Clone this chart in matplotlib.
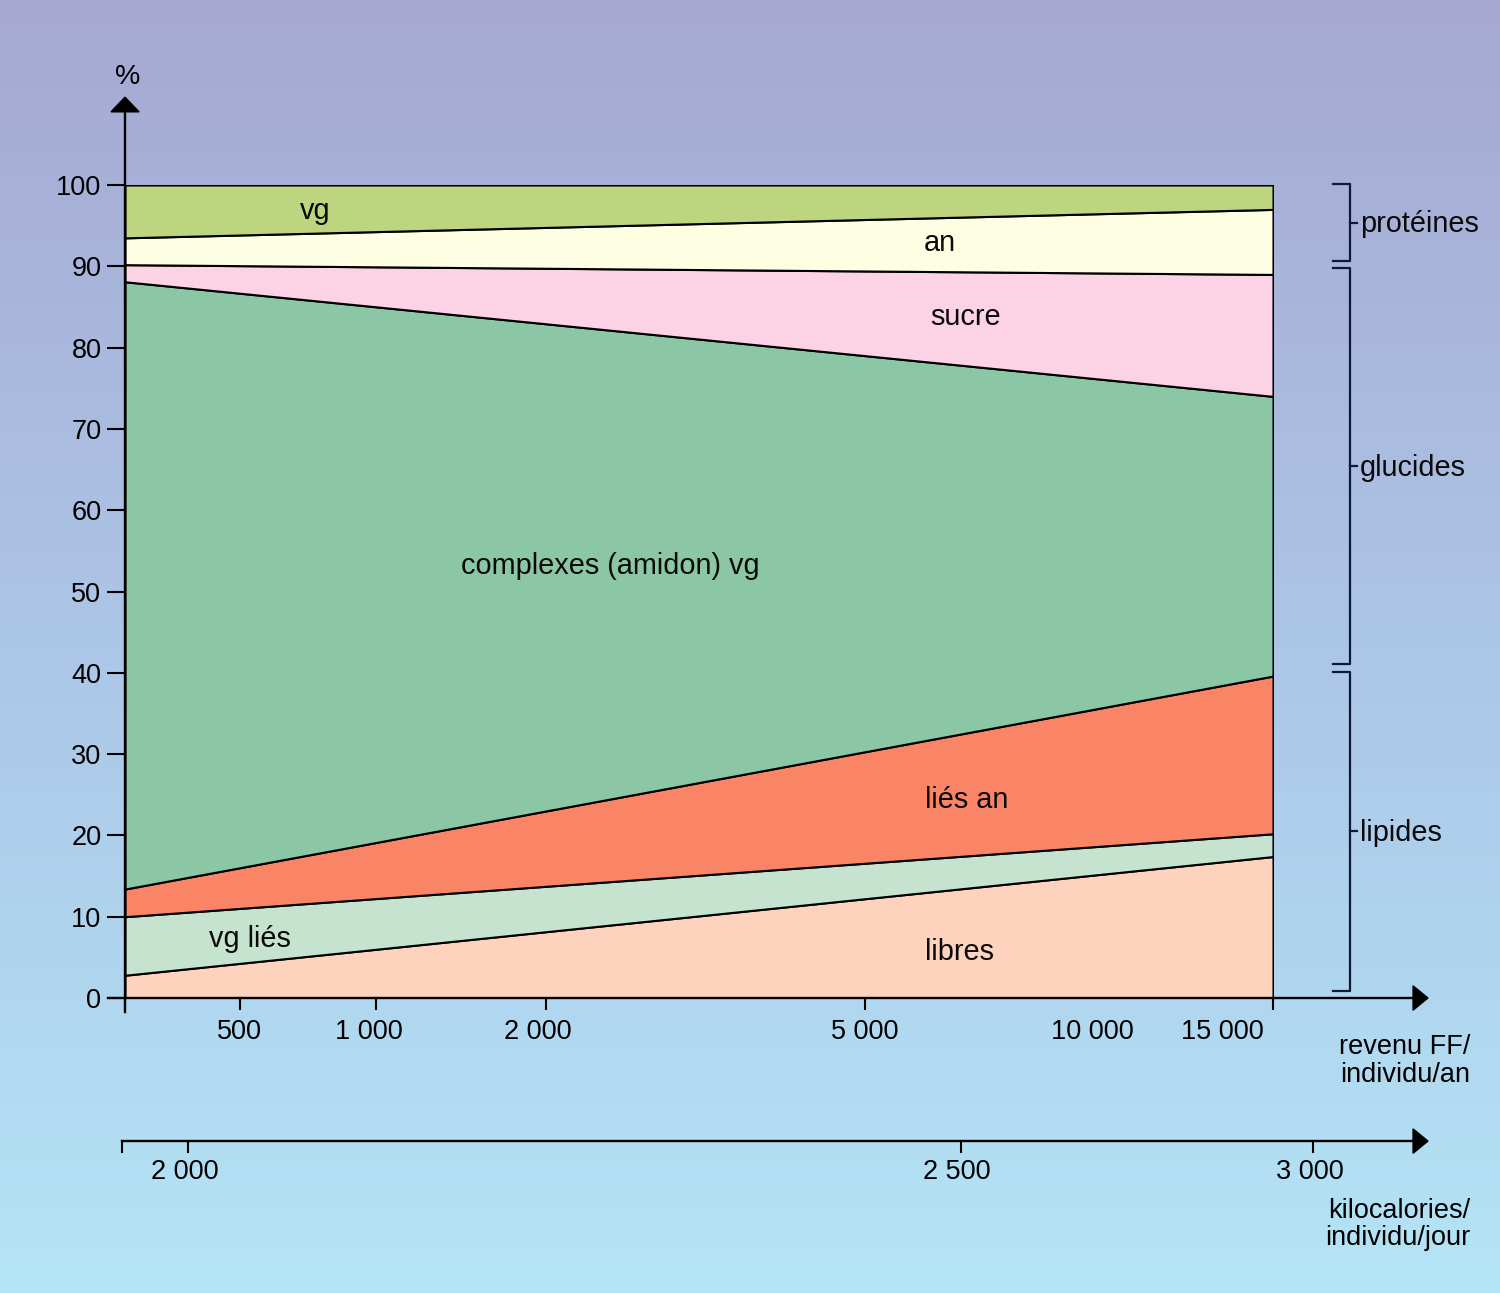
import numpy as np
import matplotlib
matplotlib.use("Agg")
import matplotlib.pyplot as plt
from matplotlib.patches import Polygon

plt.rcParams['font.family'] = ['Liberation Sans', 'DejaVu Sans']

# position along the income axis (0 = left edge, 1 = right edge of the plot)
x_pos = [0.0, 1.0]

# layer thicknesses in %, from bottom to top
layer_names = ['libres', 'vg liés', 'liés an', 'complexes (amidon) vg', 'sucre', 'an', 'vg']
libres = [2.8, 17.4]
vg_lies = [7.2, 2.8]
lies_an = [3.4, 19.4]
complexes = [74.7, 34.4]
sucre = [2.1, 15.0]
an = [3.3, 8.0]
vg = [6.5, 3.0]
layer_colors = ['#fdd3bd', '#c5e3cf', '#fa8566', '#8bc6a5', '#fbd3e4', '#fefee2', '#bed580']

# label placement of each layer (x along axis, y in %)
label_x = [0.727, 0.109, 0.733, 0.4225, 0.732, 0.710, 0.1655]
label_y = [5.7, 7.2, 24.3, 53.1, 83.8, 92.9, 96.85]

# income axis
income_ticks = [0.0, 0.100, 0.219, 0.367, 0.645, 1.0]
income_labels = ['500', '1 000', '2 000', '5 000', '10 000', '15 000']
income_label_x = [0.100, 0.212, 0.360, 0.644, 0.843, 0.956]

# kilocalorie axis
kcal_labels = ['2 000', '2 500', '3 000']
kcal_ticks = [0.055, 0.728, 1.035]

# nutrient groups (range in %)
groups = ['protéines', 'glucides', 'lipides']
group_lo = [90.6, 41.1, 0.9]
group_hi = [100.1, 89.8, 40.1]

fig = plt.figure(figsize=(15, 12.93), dpi=100)

# background gradient
bg = fig.add_axes([0, 0, 1, 1])
top_c = np.array([166, 168, 209]) / 255
mid_c = np.array([172, 198, 231]) / 255
bot_c = np.array([180, 229, 246]) / 255
t = np.linspace(0, 1, 400)[:, None]
grad = np.where(t < 0.5, top_c + (mid_c - top_c) * (t / 0.5), mid_c + (bot_c - mid_c) * ((t - 0.5) / 0.5))
bg.imshow(grad[:, None, :], aspect='auto', extent=[0, 1, 0, 1])
bg.axis('off')

ax = fig.add_axes([125 / 1500, 295 / 1293, 1148 / 1500, 813 / 1293])
ax.patch.set_visible(False)
ax.set_xlim(0, 1)
ax.set_ylim(0, 100)
for s in ax.spines.values():
    s.set_visible(False)

ax.stackplot(x_pos, libres, vg_lies, lies_an, complexes, sucre, an, vg,
             colors=layer_colors, edgecolor='black', linewidth=1.5)

for name, lx, ly in zip(layer_names, label_x, label_y):
    ax.text(lx, ly, name, ha='center', va='center', fontsize=20.8, color='#0a0a0a')

# y axis
ax.set_yticks(range(0, 101, 10))
ax.tick_params(axis='y', length=13, width=1.5, direction='out', labelsize=19.5, pad=4, colors='black')
ax.plot([0, 0], [-1.7, 109.5], color='black', lw=1.7, clip_on=False)
ax.add_patch(Polygon([[-0.0122, 109.0], [0.0122, 109.0], [0, 110.8]], closed=True,
                     color='black', clip_on=False))
ax.text(0.0026, 113.3, '%', ha='center', va='center', fontsize=20.5)

# income axis
ax.set_xticks(income_ticks)
ax.set_xticklabels([''] * len(income_ticks))
ax.tick_params(axis='x', length=8.6, width=1.5, direction='out')
ax.plot([-0.015, 1.125], [0, 0], color='black', lw=1.7, clip_on=False)
ax.add_patch(Polygon([[1.122, 1.5], [1.122, -1.5], [1.135, 0]], closed=True,
                     color='black', clip_on=False))
for lab, lx in zip(income_labels, income_label_x):
    ax.text(lx, -4.15, lab, ha='center', va='center', fontsize=19.5)
ax.text(1.1715, -7.75, 'revenu FF/\nindividu/an', ha='right', va='center',
        fontsize=19.5, linespacing=1.08, multialignment='right')

# kilocalorie axis
ky = -17.6
ax.plot([-0.0026, 1.122], [ky, ky], color='black', lw=1.7, clip_on=False)
ax.plot([-0.0026, -0.0026], [ky, ky - 1.35], color='black', lw=1.5, clip_on=False)
ax.add_patch(Polygon([[1.122, ky + 1.5], [1.122, ky - 1.5], [1.135, ky]], closed=True,
                     color='black', clip_on=False))
for lab, kx in zip(kcal_labels, kcal_ticks):
    ax.plot([kx, kx], [ky, ky - 1.35], color='black', lw=1.5, clip_on=False)
    ax.text(kx - 0.003, ky - 3.8, lab, ha='center', va='center', fontsize=19.5)
ax.text(1.1715, -27.85, 'kilocalories/\nindividu/jour', ha='right', va='center',
        fontsize=19.5, linespacing=1.08, multialignment='right')

# group brackets
bx, hx = 1.067, 1.052
for name, lo, hi in zip(groups, group_lo, group_hi):
    ax.plot([hx, bx, bx, hx], [hi, hi, lo, lo], color='#0d1a33', lw=1.6, clip_on=False)
    mid = (lo + hi) / 2
    ax.plot([bx, bx + 0.006], [mid, mid], color='#0d1a33', lw=1.6, clip_on=False)
    ax.text(bx + 0.0085, mid - 0.2, name, ha='left', va='center', fontsize=20.8, color='#0a0a0a')

fig.savefig('out.png', dpi=100)
